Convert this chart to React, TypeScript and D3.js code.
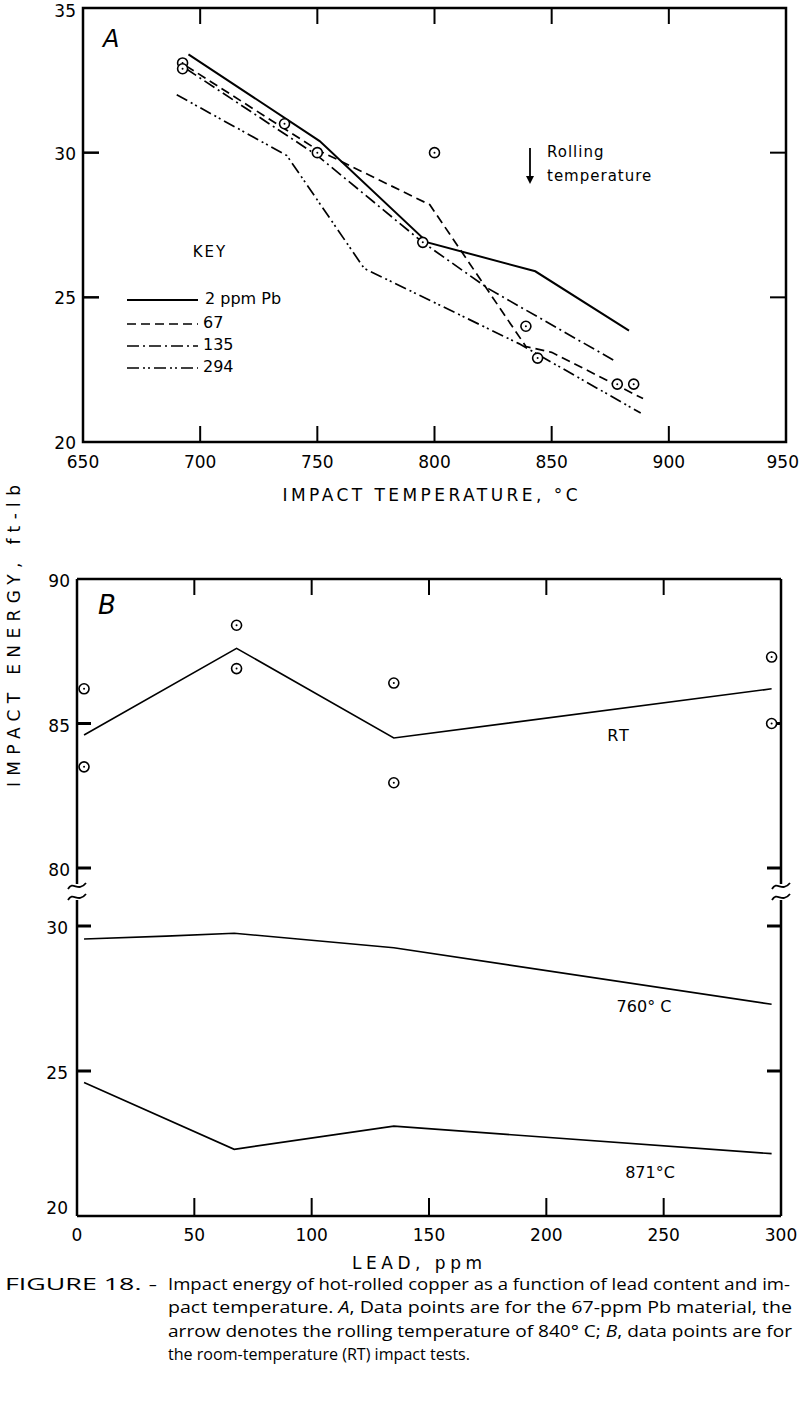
import React from 'react';
import * as d3 from 'd3';

// ---- Panel A data (impact temperature vs energy) ----
const tempTicks = [650, 700, 750, 800, 850, 900, 950];
const energyTicksA = [20, 25, 30, 35];
const keyLabels = ['2 ppm Pb', '67', '135', '294'];
const lead2: [number, number][] = [[695, 33.4], [751, 30.4], [797, 26.9], [843, 25.9], [883, 23.85]];
const lead67: [number, number][] = [[694, 33.0], [750, 30.1], [798, 28.2], [839, 23.3], [850, 23.1], [889, 21.5]];
const lead135: [number, number][] = [[694, 32.9], [750, 29.9], [795, 26.9], [823, 25.3], [877, 22.8]];
const lead294: [number, number][] = [[690, 32.0], [737, 29.9], [770, 26.0], [836, 23.4], [888, 21.0]];
const points67: [number, number][] = [
    [692.5, 33.1], [692.5, 32.9], [736, 31.0], [750, 30.0], [795, 26.9],
    [800, 30.0], [839, 24.0], [844, 22.9], [878, 22.0], [885, 22.0],
];

// ---- Panel B data (lead content vs energy) ----
const leadTicks = [0, 50, 100, 150, 200, 250, 300];
const upperTicks = [80, 85, 90];
const lowerTicks = [20, 25, 30];
const rtLine: [number, number][] = [[3, 84.6], [68, 87.6], [135, 84.5], [296, 86.2]];
const rtPoints: [number, number][] = [
    [3, 86.2], [3, 83.5], [68, 88.4], [68, 86.9], [135, 86.4], [135, 82.95], [296, 87.3], [296, 85.0],
];
const line760: [number, number][] = [[3, 29.55], [38, 29.65], [67, 29.75], [135, 29.25], [296, 27.3]];
const line871: [number, number][] = [[3, 24.6], [67, 22.3], [135, 23.1], [296, 22.15]];

const FONT = "'DejaVu Sans', sans-serif";

const Marker: React.FC<{ x: number; y: number }> = ({ x, y }) => (
    <g>
        <circle cx={x} cy={y} r={5} fill="white" stroke="black" strokeWidth={1.6} />
        <circle cx={x} cy={y} r={1} fill="black" />
    </g>
);

const tilde = (x: number, y: number) =>
    `M${x - 9},${y + 3} C${x - 4},${y - 6} ${x + 1},${y + 7} ${x + 9},${y - 3}`;

const App: React.FC = () => {
    // Panel A scales
    const xA = d3.scaleLinear().domain([650, 950]).range([83, 786]);
    const yA = d3.scaleLinear().domain([20, 35]).range([442, 8]);
    const lineA = d3.line<[number, number]>().x(d => xA(d[0])).y(d => yA(d[1]));

    // Panel B scales (broken axis)
    const xB = d3.scaleLinear().domain([0, 300]).range([77, 781]);
    const yUp = d3.scaleLinear().domain([80, 90]).range([868, 579]);
    const yLo = d3.scaleLinear().domain([20, 30]).range([1216, 926]);
    const lineUp = d3.line<[number, number]>().x(d => xB(d[0])).y(d => yUp(d[1]));
    const lineLo = d3.line<[number, number]>().x(d => xB(d[0])).y(d => yLo(d[1]));

    const seriesA = [
        { data: lead2, dash: 'none' },
        { data: lead67, dash: '9,5' },
        { data: lead135, dash: '12,4,2,4' },
        { data: lead294, dash: '12,4,2,3,2,4' },
    ];
    const keyY = [300, 324, 346, 368];

    const tick = 16;

    return (
        <div style={{ position: 'absolute', left: 0, top: 0 }}>
            <svg width={800} height={1413} style={{ display: 'block', background: 'white' }} fontFamily={FONT}>
                {/* ===== Panel A ===== */}
                <rect x={xA(650)} y={yA(35)} width={xA(950) - xA(650)} height={yA(20) - yA(35)}
                    fill="none" stroke="black" strokeWidth={2.5} />
                {tempTicks.slice(1, -1).map(t => (
                    <g key={`ta${t}`}>
                        <line x1={xA(t)} x2={xA(t)} y1={yA(20)} y2={yA(20) - tick} stroke="black" strokeWidth={2} />
                        <line x1={xA(t)} x2={xA(t)} y1={yA(35)} y2={yA(35) + tick} stroke="black" strokeWidth={2} />
                    </g>
                ))}
                {energyTicksA.slice(1, -1).map(e => (
                    <g key={`ea${e}`}>
                        <line x1={xA(650)} x2={xA(650) + tick} y1={yA(e)} y2={yA(e)} stroke="black" strokeWidth={2.5} />
                        <line x1={xA(950)} x2={xA(950) - tick} y1={yA(e)} y2={yA(e)} stroke="black" strokeWidth={2} />
                    </g>
                ))}
                {tempTicks.map(t => (
                    <text key={`tl${t}`} x={t === 950 ? 799 : xA(t)} y={462} fontSize={17}
                        textAnchor={t === 950 ? 'end' : 'middle'} dominantBaseline="central">{t}</text>
                ))}
                {energyTicksA.map(e => (
                    <text key={`el${e}`} x={76} y={yA(e) + (e === 35 ? 3 : 1)} fontSize={17} textAnchor="end" dominantBaseline="central">{e}</text>
                ))}
                <text x={103} y={47} fontSize={24} fontStyle="italic">A</text>

                {seriesA.map((s, i) => (
                    <path key={`sa${i}`} d={lineA(s.data) || ''} fill="none" stroke="black"
                        strokeWidth={i === 0 ? 2 : 1.7} strokeDasharray={s.dash} />
                ))}
                {points67.map((p, i) => <Marker key={`pa${i}`} x={xA(p[0])} y={yA(p[1])} />)}

                {/* key */}
                <text x={210} y={252} fontSize={15} textAnchor="middle" dominantBaseline="central" letterSpacing={2}>KEY</text>
                {seriesA.map((s, i) => (
                    <g key={`k${i}`}>
                        <line x1={127} x2={198} y1={keyY[i]} y2={keyY[i]} stroke="black"
                            strokeWidth={i === 0 ? 2 : 1.7} strokeDasharray={s.dash} />
                        <text x={i === 0 ? 205 : 203} y={keyY[i] - 2} fontSize={16} dominantBaseline="central">{keyLabels[i]}</text>
                    </g>
                ))}

                {/* rolling temperature arrow */}
                <line x1={530} x2={530} y1={148} y2={178} stroke="black" strokeWidth={1.8} />
                <path d="M526,176 L534,176 L530,184 Z" fill="black" />
                <text x={547} y={152} fontSize={15} dominantBaseline="central" letterSpacing={1}>Rolling</text>
                <text x={547} y={176} fontSize={15} dominantBaseline="central" letterSpacing={1}>temperature</text>

                <text x={430} y={495} fontSize={17} textAnchor="middle" dominantBaseline="central"
                    textLength={295} lengthAdjust="spacing">IMPACT TEMPERATURE, °C</text>

                {/* shared y title */}
                <text transform="translate(14,636) rotate(-90)" fontSize={17} textAnchor="middle" dominantBaseline="central"
                    textLength={302} lengthAdjust="spacing">IMPACT ENERGY,  ft-lb</text>

                {/* ===== Panel B ===== */}
                <line x1={xB(0)} x2={xB(300)} y1={yUp(90)} y2={yUp(90)} stroke="black" strokeWidth={2.5} />
                <line x1={xB(0)} x2={xB(300)} y1={yLo(20)} y2={yLo(20)} stroke="black" strokeWidth={2.5} />
                {[xB(0), xB(300)].map((x, i) => (
                    <g key={`ax${i}`}>
                        <line x1={x} x2={x} y1={yUp(90)} y2={884} stroke="black" strokeWidth={2.5} />
                        <line x1={x} x2={x} y1={900} y2={yLo(20)} stroke="black" strokeWidth={2.5} />
                        <path d={tilde(x, 886)} fill="none" stroke="black" strokeWidth={1.8} />
                        <path d={tilde(x, 897)} fill="none" stroke="black" strokeWidth={1.8} />
                    </g>
                ))}
                {leadTicks.slice(1, -1).map(t => (
                    <g key={`tb${t}`}>
                        <line x1={xB(t)} x2={xB(t)} y1={yLo(20)} y2={yLo(20) - tick - 2} stroke="black" strokeWidth={2} />
                        <line x1={xB(t)} x2={xB(t)} y1={yUp(90)} y2={yUp(90) + tick} stroke="black" strokeWidth={2} />
                    </g>
                ))}
                {[...upperTicks.slice(0, -1).map(v => yUp(v)), ...lowerTicks.slice(1).map(v => yLo(v))].map((y, i) => (
                    <g key={`yb${i}`}>
                        <line x1={xB(0)} x2={xB(0) + 14} y1={y} y2={y} stroke="black" strokeWidth={3} />
                        <line x1={xB(300)} x2={xB(300) - 14} y1={y} y2={y} stroke="black" strokeWidth={3} />
                    </g>
                ))}
                {leadTicks.map(t => (
                    <text key={`lb${t}`} x={xB(t)} y={1235} fontSize={17} textAnchor="middle" dominantBaseline="central">{t}</text>
                ))}
                {upperTicks.map(v => (
                    <text key={`ub${v}`} x={70} y={yUp(v) + 2} fontSize={17} textAnchor="end" dominantBaseline="central">{v}</text>
                ))}
                {lowerTicks.map(v => (
                    <text key={`lo${v}`} x={68} y={yLo(v) + (v === 20 ? -8 : 2)} fontSize={17} textAnchor="end" dominantBaseline="central">{v}</text>
                ))}
                <text x={98} y={614} fontSize={26} fontStyle="italic">B</text>

                <path d={lineUp(rtLine) || ''} fill="none" stroke="black" strokeWidth={1.6} />
                <path d={lineLo(line760) || ''} fill="none" stroke="black" strokeWidth={1.6} />
                <path d={lineLo(line871) || ''} fill="none" stroke="black" strokeWidth={1.6} />
                {rtPoints.map((p, i) => <Marker key={`pb${i}`} x={xB(p[0])} y={yUp(p[1])} />)}

                <text x={619} y={735} fontSize={16} textAnchor="middle" dominantBaseline="central" letterSpacing={2}>RT</text>
                <text x={644} y={1006} fontSize={16} textAnchor="middle" dominantBaseline="central">760° C</text>
                <text x={650} y={1172} fontSize={16} textAnchor="middle" dominantBaseline="central">871°C</text>

                <text x={417} y={1263} fontSize={17} textAnchor="middle" dominantBaseline="central"
                    textLength={130} lengthAdjust="spacing">LEAD,  ppm</text>

                {/* ===== Caption ===== */}
                <g fontFamily="'Open Sans', sans-serif" fontSize={17}>
                    <text x={5} y={1290} textLength={152} lengthAdjust="spacingAndGlyphs">FIGURE 18. -</text>
                    <text x={168} y={1290} textLength={622} lengthAdjust="spacingAndGlyphs">
                        Impact energy of hot-rolled copper as a function of lead content and im-
                    </text>
                    <text x={168} y={1313} textLength={624} lengthAdjust="spacingAndGlyphs">
                        pact temperature.  <tspan fontStyle="italic">A</tspan>, Data points are for the 67-ppm Pb material, the
                    </text>
                    <text x={168} y={1337} textLength={624} lengthAdjust="spacingAndGlyphs">
                        arrow denotes the rolling temperature of 840° C; <tspan fontStyle="italic">B</tspan>, data points are for
                    </text>
                    <text x={168} y={1360} textLength={302} lengthAdjust="spacingAndGlyphs">
                        the room-temperature (RT) impact tests.
                    </text>
                </g>
            </svg>
        </div>
    );
};

export default App;
